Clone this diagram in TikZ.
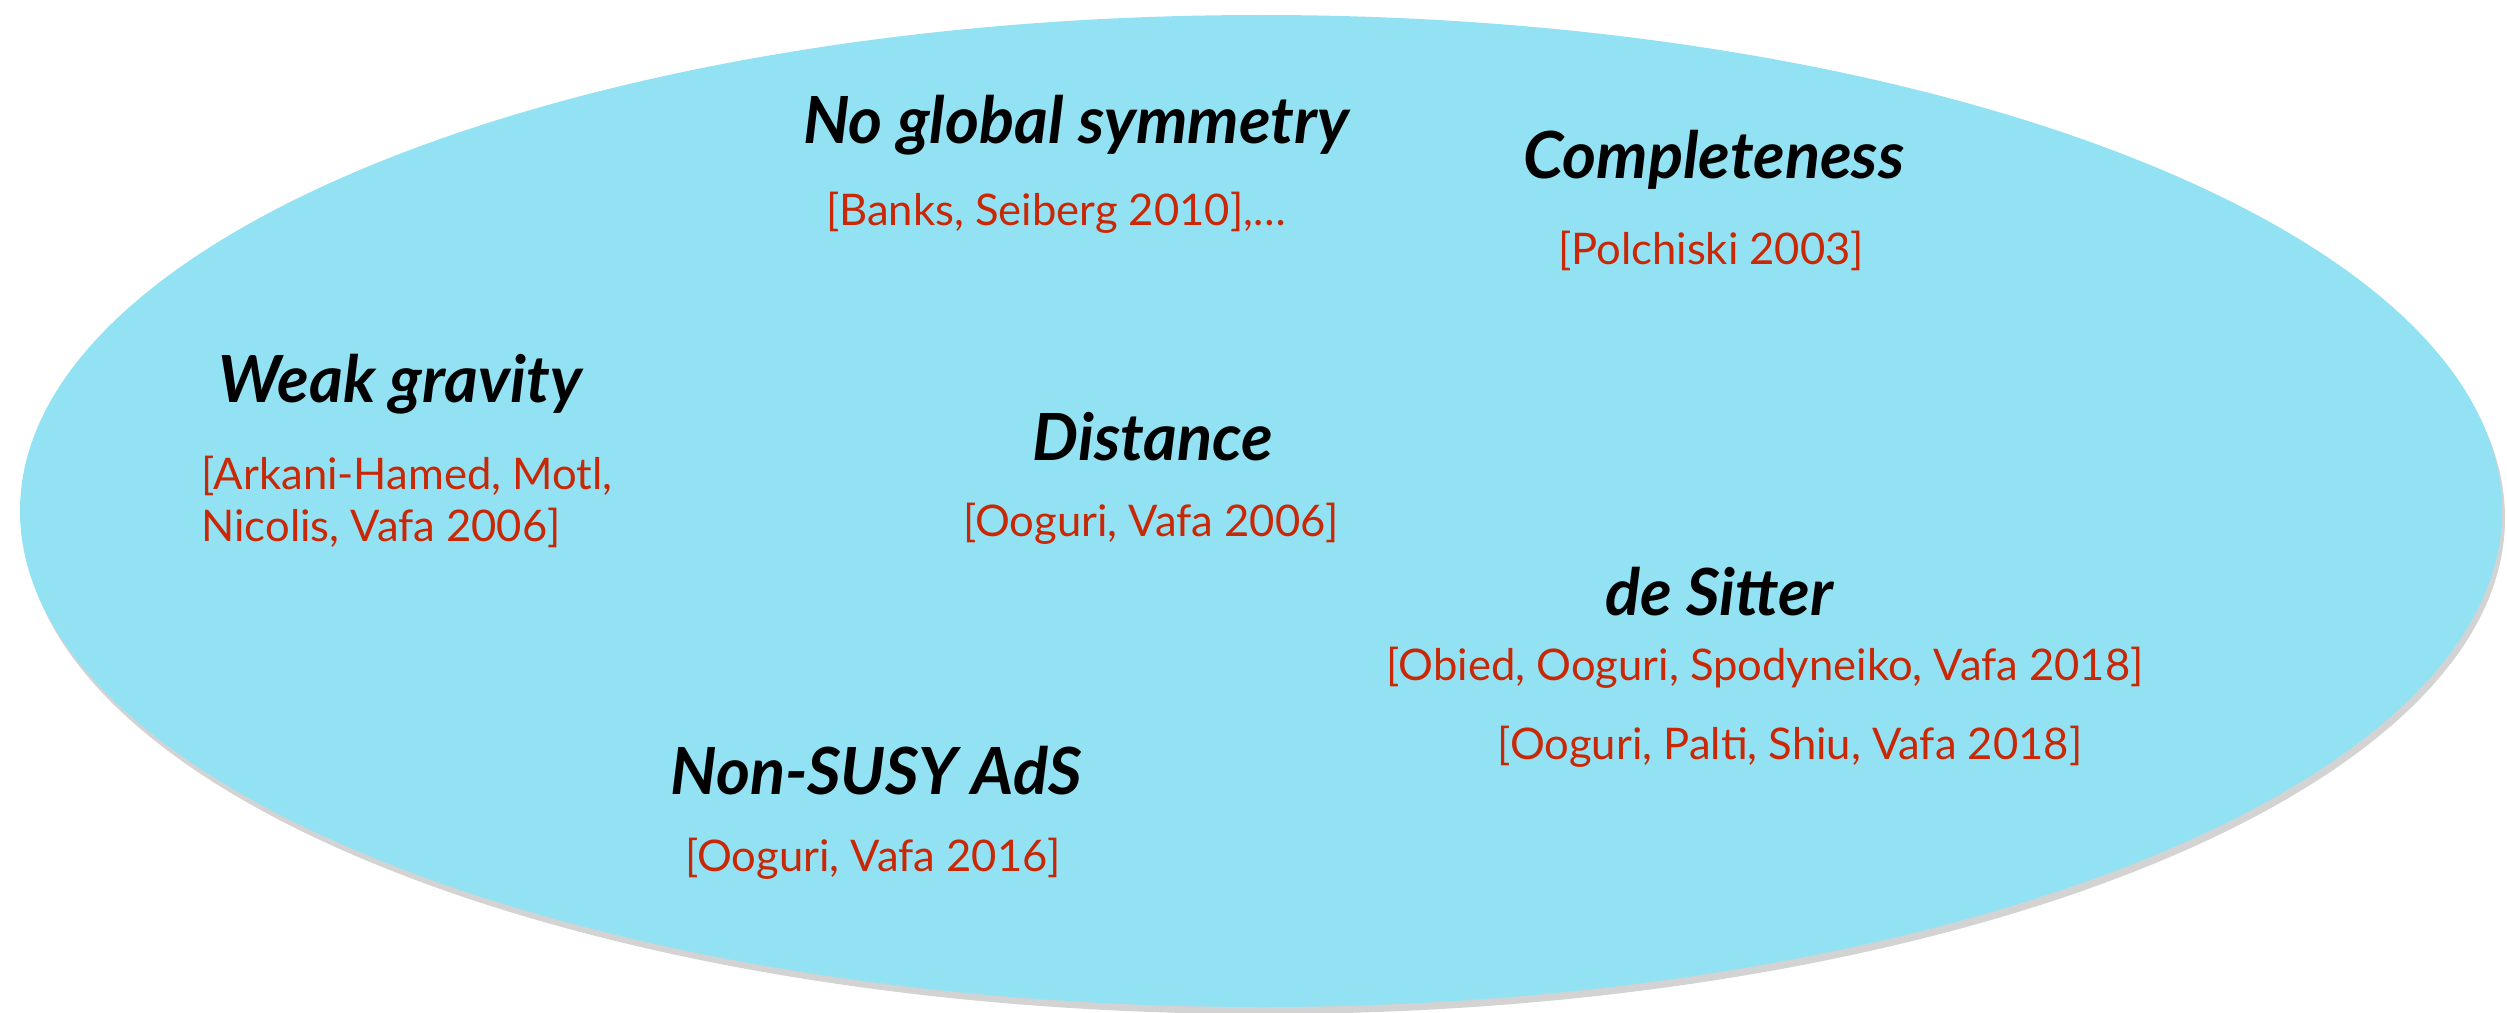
\documentclass[tikz,border=0pt]{standalone}
\usepackage{fontspec}
\setmainfont{Lato}
\usepackage{tikz}
\usetikzlibrary{shadows}
\definecolor{swampblue}{RGB}{147,226,243}
\definecolor{refred}{RGB}{200,40,5}

\begin{document}
\begin{tikzpicture}[
    conj/.style={font=\fontsize{18.5}{22}\selectfont\bfseries\itshape},
    cite/.style={text=refred,font=\fontsize{12.4}{14.8}\selectfont}]
    \useasboundingbox (0,0) rectangle (25.07,-10.13);

    % Swampland ellipse
    \fill[swampblue,drop shadow={shadow xshift=0.3mm,shadow yshift=-0.7mm,opacity=0.35}]
        (12.61,-5.11) ellipse (12.41 and 4.96);

    % Conjectures
    \node[conj] (nogs) at (10.76,-1.25) {No global symmetry};
    \node[cite] (nogsref) at (10.56,-2.13) {[Banks, Seiberg 2010],\dots};

    \node[conj] (compl) at (17.14,-1.60) {Completeness};
    \node[cite] (complref) at (17.11,-2.51) {[Polchiski 2003]};

    \node[conj] (wgc) at (4.00,-3.84) {Weak gravity};
    \node[cite,align=left,anchor=west] (wgcref) at (1.89,-5.02)
        {[Arkani-Hamed, Motl,\\Nicolis, Vafa 2006]};

    \node[conj] (dist) at (11.53,-4.37) {Distance};
    \node[cite] (distref) at (11.51,-5.24) {[Ooguri, Vafa 2006]};

    \node[conj] (ds) at (17.19,-5.92) {de Sitter};
    \node[cite] (dsref) at (17.65,-6.68) {[Obied, Ooguri, Spodyneiko, Vafa 2018]};
    \node[cite] (dsreftwo) at (17.90,-7.47) {[Ooguri, Palti, Shiu, Vafa 2018]};

    \node[conj] (ads) at (8.76,-7.71) {Non-SUSY AdS};
    \node[cite] (adsref) at (8.73,-8.59) {[Ooguri, Vafa 2016]};
\end{tikzpicture}
\end{document}
